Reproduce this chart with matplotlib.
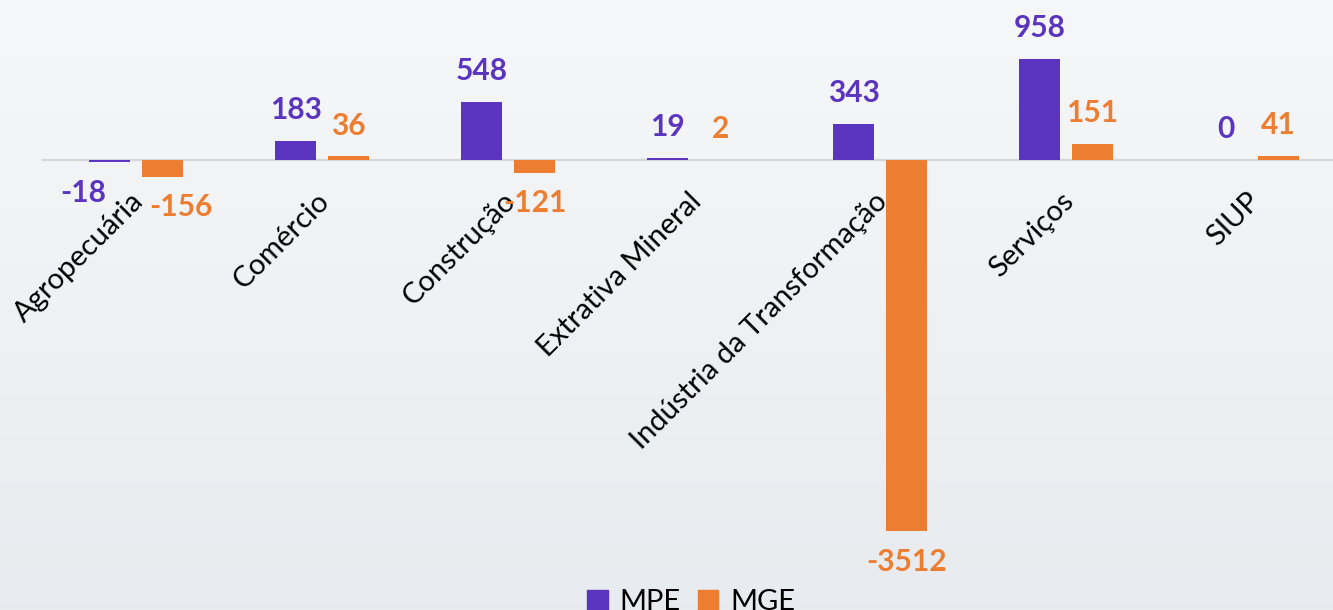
import numpy as np
import matplotlib
matplotlib.use('Agg')
import matplotlib.pyplot as plt
import matplotlib.transforms as mtransforms
from matplotlib.patches import Patch

plt.rcParams['font.family'] = ['Lato', 'DejaVu Sans']

# dados
categorias = ['Agropecuária', 'Comércio', 'Construção', 'Extrativa Mineral',
              'Indústria da Transformação', 'Serviços', 'SIUP']
mpe = [-18, 183, 548, 19, 343, 958, 0]
mge = [-156, 36, -121, 2, -3512, 151, 41]

COR_MPE = '#5B35BF'
COR_MGE = '#ED7D31'

# deslocamento manual de alguns rótulos (pontos), como no original
ajuste_rotulo = {('MPE', 0): -19, ('MGE', 0): 13}

fig = plt.figure(figsize=(13.33, 6.10), dpi=100)

# fundo em degradê
bg = fig.add_axes([0, 0, 1, 1], zorder=-10)
grad = np.linspace(0, 1, 256).reshape(-1, 1)
top = np.array([0.965, 0.969, 0.976])
bot = np.array([0.910, 0.922, 0.937])
img = top + (bot - top) * grad[:, :, None]
bg.imshow(img, aspect='auto', extent=[0, 1, 0, 1])
bg.axis('off')

ax = fig.add_axes([43 / 1333, 0, 1302 / 1333, 1])
ax.patch.set_alpha(0)

x = np.arange(len(categorias))
w = 0.22
off = 0.1425
b1 = ax.bar(x - off, mpe, w, color=COR_MPE, zorder=3)
b2 = ax.bar(x + off, mge, w, color=COR_MGE, zorder=3)

ax.set_xlim(-0.5, len(categorias) - 0.5)
ax.set_ylim(-4257, 1514)

for nome, barras, vals, cor in [('MPE', b1, mpe, COR_MPE), ('MGE', b2, mge, COR_MGE)]:
    for i, (bar, v) in enumerate(zip(barras, vals)):
        dx = ajuste_rotulo.get((nome, i), 0)
        if v >= 0:
            ax.annotate(f'{v}', (bar.get_x() + bar.get_width() / 2, v),
                        xytext=(dx, 12), textcoords='offset points',
                        ha='center', va='bottom', color=cor,
                        fontsize=21.5, fontweight='bold')
        else:
            ax.annotate(f'{v}', (bar.get_x() + bar.get_width() / 2, v),
                        xytext=(dx, -12), textcoords='offset points',
                        ha='center', va='top', color=cor,
                        fontsize=21.5, fontweight='bold')

for s in ['top', 'right', 'left']:
    ax.spines[s].set_visible(False)
ax.spines['bottom'].set_position(('data', 0))
ax.spines['bottom'].set_color('#D6D6D6')
ax.spines['bottom'].set_linewidth(1.6)
ax.spines['bottom'].set_zorder(2)
ax.set_yticks([])
ax.set_xticks(x)
ax.set_xticklabels(categorias, rotation=45, ha='right', va='top',
                   rotation_mode='anchor', fontsize=21)
ax.tick_params(axis='x', length=0, pad=20)
# pequeno ajuste horizontal dos rótulos das categorias
desl = mtransforms.ScaledTranslation(-4 / 72, 0, fig.dpi_scale_trans)
for lbl in ax.get_xticklabels():
    lbl.set_transform(lbl.get_transform() + desl)

handles = [Patch(color=COR_MPE, label='MPE'), Patch(color=COR_MGE, label='MGE')]
fig.legend(handles=handles, loc='upper center', bbox_to_anchor=(691 / 1333, 47 / 610),
           ncol=2, frameon=False, fontsize=21, handlelength=0.7, handleheight=0.7,
           handletextpad=0.4, columnspacing=0.6)

fig.savefig('out.png', dpi=100)
